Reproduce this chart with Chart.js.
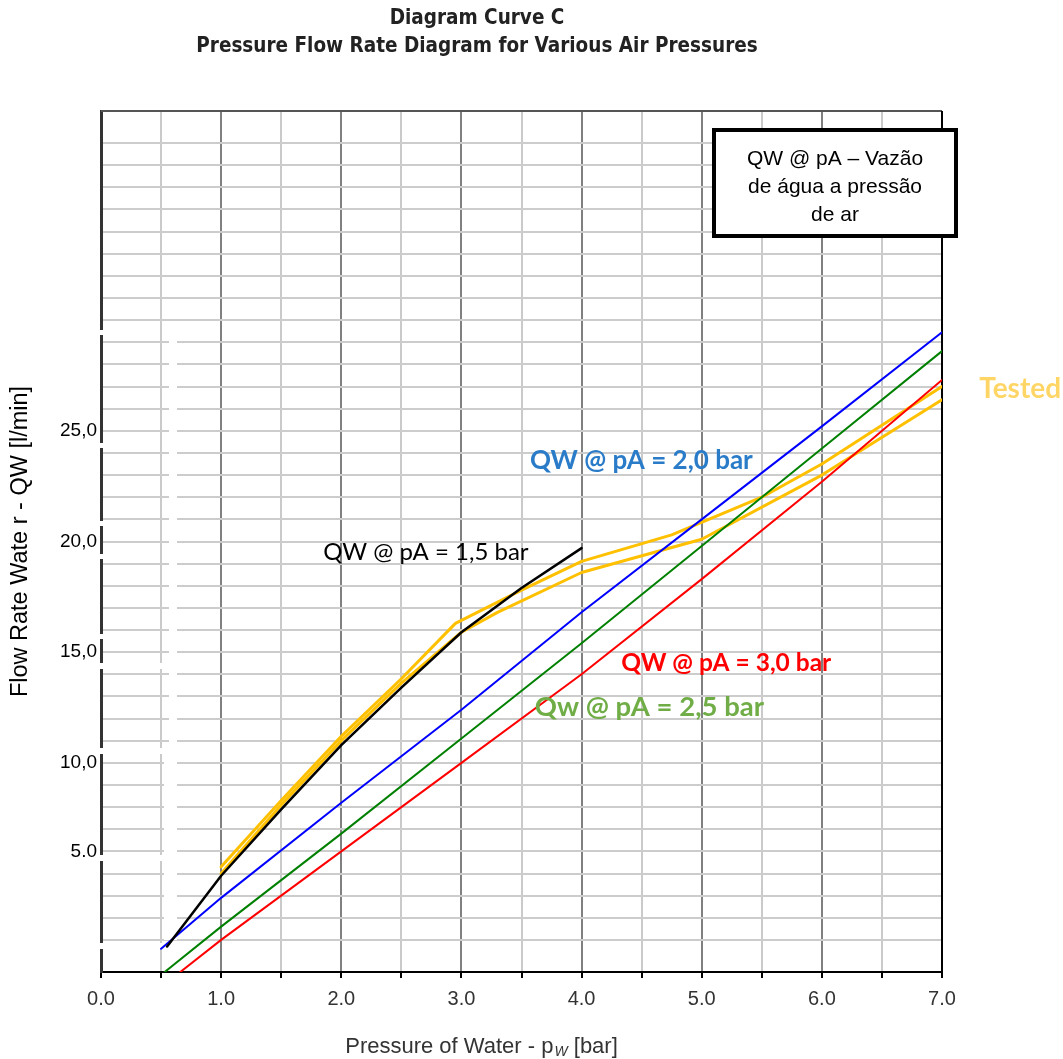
<!DOCTYPE html>
<html>
<head>
<meta charset="utf-8">
<script src="https://cdn.jsdelivr.net/npm/chart.js@4.4.1/dist/chart.umd.min.js"></script>
<style>
body{margin:0;background:#fff;}
canvas{display:block;}
</style>
</head>
<body>
<canvas id="chart" width="1063" height="1059"></canvas>
<script>
// values: x = water pressure [bar], y = flow rate [l/min]
const blueX = [0.5, 1, 2, 3, 4, 5, 6, 7];
const blueY = [1.6, 3.9, 8.2, 12.4, 16.8, 21.0, 25.2, 29.45];

const greenX = [0.53, 1, 2, 3, 4, 5, 6, 7];
const greenY = [0.55, 2.6, 6.8, 11.1, 15.4, 19.8, 24.2, 28.6];

const redX = [0.66, 1, 2, 3, 4, 5, 6, 7];
const redY = [0.55, 2.0, 6.0, 10.0, 14.0, 18.3, 22.7, 27.3];

const blackX = [0.55, 1, 1.5, 2, 2.5, 3, 3.5, 4];
const blackY = [1.7, 4.9, 7.9, 10.8, 13.4, 15.9, 17.9, 19.7];

// "Tested" is drawn as two close yellow lines
const testedAX = [1.0, 1.5, 2.0, 2.5, 2.95, 3.5, 4.0, 4.75, 5.5, 6.0, 7.0];
const testedAY = [5.3, 8.3, 11.2, 13.8, 16.3, 17.8, 19.1, 20.3, 22.0, 23.5, 27.0];
const testedBX = [1.0, 1.5, 2.0, 2.5, 3.0, 3.3, 4.0, 4.6, 5.0, 6.0, 7.0];
const testedBY = [5.0, 8.1, 11.0, 13.6, 15.9, 16.8, 18.6, 19.5, 20.1, 23.0, 26.4];

const yLabelValues = [6, 10, 15, 20, 25];
const yLabelTexts = ['5.0', '10,0', '15,0', '20,0', '25,0'];

const titleLines = ['Diagram Curve C', 'Pressure Flow Rate Diagram for Various Air Pressures'];
const noteLines = ['QW @ pA \u2013 Vaz\u00e3o', 'de \u00e1gua a press\u00e3o', 'de ar'];

function pts(xs, ys){
    return xs.map((x, i) => ({x: x, y: ys[i]}));
}

function line(data, color, width){
    return {
        data: data,
        borderColor: color,
        borderWidth: width,
        pointRadius: 0,
        tension: 0,
        borderCapStyle: 'round',
        borderJoinStyle: 'round',
        fill: false
    };
}

const deco = {
    id: 'deco',
    beforeDatasetsDraw(chart){
        const {ctx, chartArea: a} = chart;
        ctx.save();
        // frame top and right
        ctx.strokeStyle = '#555';
        ctx.lineWidth = 2;
        ctx.beginPath(); ctx.moveTo(a.left, a.top); ctx.lineTo(a.right, a.top); ctx.stroke();
        ctx.strokeStyle = '#000';
        ctx.beginPath(); ctx.moveTo(a.right, a.top); ctx.lineTo(a.right, a.bottom); ctx.stroke();
        // white paste marks on the left of the reference
        ctx.fillStyle = '#fff';
        ctx.fillRect(169, 328, 8, 612);
        ctx.fillRect(164, 745, 13, 195);
        [330, 443, 521, 554, 634].forEach(y => ctx.fillRect(97, y, 8, 5));
        [663, 748, 855, 943].forEach(y => ctx.fillRect(97, y, 86, 6));
        ctx.restore();
    },
    afterDraw(chart){
        const {ctx, scales: {x, y}} = chart;
        ctx.save();
        ctx.textBaseline = 'middle';

        // title
        ctx.fillStyle = '#222';
        ctx.textAlign = 'center';
        ctx.font = 'bold 20.5px "DejaVu Sans Condensed", "DejaVu Sans"';
        ctx.fillText(titleLines[0], 477, 19);
        ctx.fillText(titleLines[1], 477, 47);

        // x axis title with subscript
        ctx.fillStyle = '#333';
        ctx.textAlign = 'left';
        const big = '22px "Liberation Sans", Arial', small = 'italic 14px "Liberation Sans", Arial';
        const t1 = 'Pressure of Water - p', t3 = ' [bar]';
        ctx.font = big;
        const w1 = ctx.measureText(t1).width, w3 = ctx.measureText(t3).width;
        ctx.font = small;
        const w2 = ctx.measureText('W').width;
        const sx = 481 - (w1 + w2 + w3) / 2;
        ctx.font = big;
        ctx.fillText(t1, sx, 1047);
        ctx.fillText(t3, sx + w1 + w2 + 1, 1047);
        ctx.font = small;
        ctx.fillText('W', sx + w1 + 1, 1052);

        // curve labels
        ctx.font = '24px Lato';
        ctx.fillStyle = '#000';
        ctx.fillText('QW @ pA = 1,5 bar', x.getPixelForValue(1.85), y.getPixelForValue(19.5));
        ctx.font = 'bold 26px Lato';
        ctx.fillStyle = '#2a7cc8';
        ctx.fillText('QW @ pA = 2,0 bar', x.getPixelForValue(3.57), y.getPixelForValue(23.66));
        ctx.font = 'bold 24.5px Lato';
        ctx.fillStyle = '#ff0000';
        ctx.fillText('QW @ pA = 3,0 bar', x.getPixelForValue(4.33), y.getPixelForValue(14.52));
        ctx.font = 'bold 27.5px Lato';
        ctx.fillStyle = '#70ad47';
        ctx.fillText('Qw @ pA = 2,5 bar', x.getPixelForValue(3.61), y.getPixelForValue(12.53));
        ctx.font = 'bold 28px Lato';
        ctx.fillStyle = '#ffd666';
        ctx.fillText('Tested', x.getPixelForValue(7.31), y.getPixelForValue(26.87));

        // note box
        ctx.fillStyle = '#fff';
        ctx.fillRect(712, 128, 246, 110);
        ctx.strokeStyle = '#000';
        ctx.lineWidth = 4;
        ctx.strokeRect(714, 130, 242, 106);
        ctx.fillStyle = '#000';
        ctx.textAlign = 'center';
        ctx.font = '21px "Liberation Sans", Arial';
        noteLines.forEach((s, i) => ctx.fillText(s, 835, 159 + i * 28));
        ctx.restore();
    }
};

new Chart(document.getElementById('chart'), {
    type: 'line',
    data: {
        datasets: [
            line(pts(blackX, blackY), '#000000', 2.5),
            line(pts(redX, redY), '#ff0000', 2),
            line(pts(greenX, greenY), '#008000', 2),
            line(pts(blueX, blueY), '#0000ff', 2),
            line(pts(testedAX, testedAY), '#ffc000', 3),
            line(pts(testedBX, testedBY), '#ffc000', 3)
        ]
    },
    options: {
        responsive: false,
        animation: false,
        devicePixelRatio: 1,
        layout: {padding: {left: 0, top: 111, right: 121, bottom: 0}},
        plugins: {legend: {display: false}, tooltip: {enabled: false}},
        scales: {
            x: {
                type: 'linear',
                min: 0,
                max: 7,
                afterFit: s => { s.height = 87; },
                ticks: {
                    stepSize: 0.5,
                    autoSkip: false,
                    maxRotation: 0,
                    padding: 9,
                    color: '#333',
                    font: {family: '"Liberation Sans", Arial', size: 20},
                    callback: v => Number.isInteger(v) ? v.toFixed(1) : ''
                },
                grid: {
                    color: c => (c.tick && Number.isInteger(c.tick.value)) ? '#808080' : '#cacaca',
                    lineWidth: 2,
                    tickColor: '#000',
                    tickLength: 6
                },
                border: {color: '#000', width: 2}
            },
            y: {
                type: 'linear',
                min: 0.55,
                max: 39.45,
                afterFit: s => { s.width = 101; },
                afterBuildTicks: s => { s.ticks = s.ticks.filter(t => Number.isInteger(t.value)); },
                ticks: {
                    stepSize: 1,
                    autoSkip: false,
                    padding: 4,
                    color: '#000',
                    font: {family: '"Liberation Sans", Arial', size: 19},
                    callback: v => {
                        const i = yLabelValues.indexOf(v);
                        return i >= 0 ? yLabelTexts[i] : '';
                    }
                },
                grid: {color: '#cccccc', lineWidth: 2, drawTicks: false},
                border: {color: '#333', width: 3},
                title: {
                    display: true,
                    text: 'Flow Rate Wate r - QW [l/min]',
                    color: '#000',
                    font: {family: '"Liberation Sans", Arial', size: 23.5},
                    padding: {top: 6, bottom: 0}
                }
            }
        }
    },
    plugins: [deco]
});
</script>
</body>
</html>
